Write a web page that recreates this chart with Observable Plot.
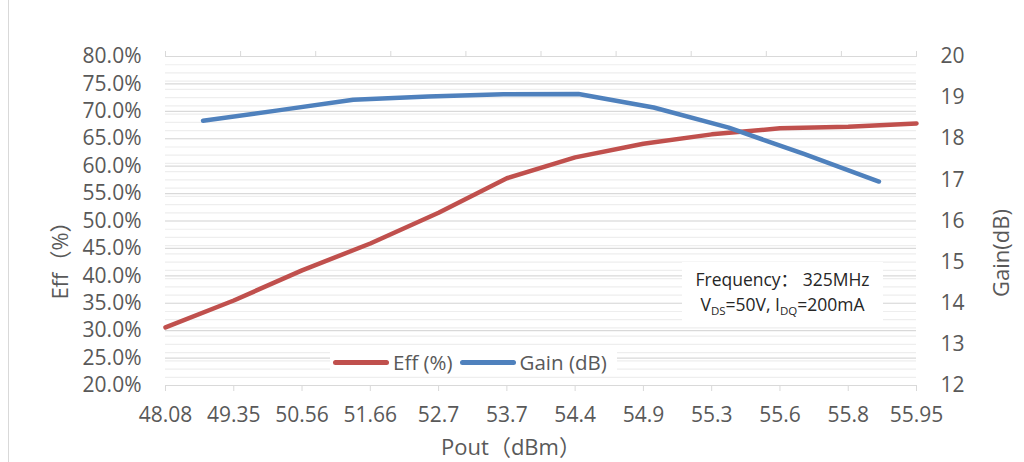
<!DOCTYPE html>
<html>
<head>
<meta charset="utf-8">
<script src="https://cdn.jsdelivr.net/npm/d3@7"></script>
<script src="https://cdn.jsdelivr.net/npm/@observablehq/plot@0.6"></script>
<style>
  body { margin: 0; background: white; }
  #wrap { position: relative; width: 1024px; height: 462px; overflow: hidden; font-family: "Open Sans", "Noto Sans CJK SC", sans-serif; }
  #border { position: absolute; left: 8px; top: 0; width: 1px; height: 462px; background: #d9d9d9; }
  #legend { position: absolute; left: 330px; top: 349px; height: 26px; padding: 0 3px; background: white; display: flex; align-items: center; font-size: 20.5px; color: #595959; }
  #legend .sw { width: 56px; height: 5px; border-radius: 3px; margin-right: 4px; }
  #legend .item { display: flex; align-items: center; margin-right: 7px; }
  #note { position: absolute; left: 682px; top: 262px; width: 201px; height: 59px; background: white; color: #262626; font-size: 17.5px; text-align: center; line-height: 25px; padding-top: 5px; box-sizing: border-box; white-space: nowrap; }
  #note sub { font-size: 11.5px; vertical-align: -4px; line-height: 0; }
</style>
</head>
<body>
<div id="wrap">
  <div id="chart"></div>
  <div id="border"></div>
  <div id="legend"></div>
  <div id="note"></div>
</div>
<script>
// ---- data ----
const categories = ["48.08","49.35","50.56","51.66","52.7","53.7","54.4","54.9","55.3","55.6","55.8","55.95"];
const effValues = [30.6, 35.5, 41.0, 45.9, 51.5, 57.8, 61.6, 64.1, 65.8, 66.9, 67.2, 67.8];
const gainValues = [18.44, 18.69, 18.95, 19.03, 19.08, 19.09, 18.76, 18.27, 17.63, 16.96];
const effTicks = [20, 25, 30, 35, 40, 45, 50, 55, 60, 65, 70, 75, 80];
const gainTicks = [12, 13, 14, 15, 16, 17, 18, 19, 20];
const gainMinorStep = 0.2;
const seriesNames = ["Eff (%)", "Gain (dB)"];
const colors = ["#C0504D", "#4F81BD"];
const xTitle = "Pout（dBm）";
const yTitle = "Eff（%）";
const y2Title = "Gain(dB)";

// ---- scales helpers ----
const toEff = d3.scaleLinear([gainTicks[0], gainTicks[gainTicks.length - 1]], [effTicks[0], effTicks[effTicks.length - 1]]);
const nCat = categories.length;
const effData = effValues.map((v, i) => ({x: i, y: v}));
// gain series sits on a secondary category axis (between tick marks)
const gainData = gainValues.map((g, i) => ({x: (i + 0.5) * (nCat - 1) / gainValues.length, y: toEff(g)}));
const topTicks = d3.range(gainValues.length + 1).map(k => k * (nCat - 1) / gainValues.length);
const minorGrid = d3.range(Math.round((gainTicks[gainTicks.length - 1] - gainTicks[0]) / gainMinorStep) + 1)
  .map(k => toEff(gainTicks[0] + k * gainMinorStep));

const chart = Plot.plot({
  width: 1024,
  height: 462,
  marginLeft: 165,
  marginRight: 108,
  marginTop: 56,
  marginBottom: 77,
  x: {domain: [0, nCat - 1], axis: null},
  y: {domain: [effTicks[0], effTicks[effTicks.length - 1]], axis: null},
  style: {fontFamily: "'Open Sans', 'Noto Sans CJK SC', sans-serif", fontSize: "21px", color: "#595959", background: "transparent"},
  marks: [
    Plot.ruleY(minorGrid, {stroke: "#eeeeee", strokeWidth: 1.2}),
    Plot.ruleY(effTicks, {stroke: "#d9d9d9", strokeWidth: 1.2}),
    Plot.axisX(d3.range(nCat), {anchor: "bottom", tickSize: 6, tickPadding: 16, stroke: "#d9d9d9", fill: "#595959", tickFormat: i => categories[i], label: null}),
    Plot.axisX(topTicks, {anchor: "top", tickSize: 6, stroke: "#d9d9d9", tickFormat: () => "", label: null}),
    Plot.axisY(effTicks, {anchor: "left", tickSize: 0, tickPadding: 24, fill: "#595959", tickFormat: d => d.toFixed(1) + "%", label: null}),
    Plot.axisY(gainTicks.map(toEff), {anchor: "right", tickSize: 0, tickPadding: 24, fill: "#595959", tickFormat: d => String(Math.round(toEff.invert(d))), label: null}),
    Plot.line(effData, {x: "x", y: "y", stroke: colors[0], strokeWidth: 4.5, strokeLinecap: "round", strokeLinejoin: "round"}),
    Plot.line(gainData, {x: "x", y: "y", stroke: colors[1], strokeWidth: 4.5, strokeLinecap: "round", strokeLinejoin: "round"}),
    Plot.text([xTitle], {frameAnchor: "bottom", textAnchor: "middle", lineAnchor: "middle", dy: 62, dx: -30, fill: "#595959", fontSize: 22}),
    Plot.text([yTitle], {frameAnchor: "left", textAnchor: "middle", lineAnchor: "middle", dx: -105, dy: 34, rotate: -90, fill: "#595959", fontSize: 22}),
    Plot.text([y2Title], {frameAnchor: "right", textAnchor: "middle", lineAnchor: "middle", dx: 85, dy: 32, rotate: -90, fill: "#595959", fontSize: 22})
  ]
});
document.getElementById("chart").appendChild(chart);

// legend
const legend = d3.select("#legend");
seriesNames.forEach((name, i) => {
  const item = legend.append("div").attr("class", "item");
  item.append("div").attr("class", "sw").style("background", colors[i]);
  item.append("span").text(name);
});

// annotation
document.getElementById("note").innerHTML =
  "Frequency：&nbsp;325MHz<br>V<sub>DS</sub>=50V, I<sub>DQ</sub>=200mA";
</script>
</body>
</html>
